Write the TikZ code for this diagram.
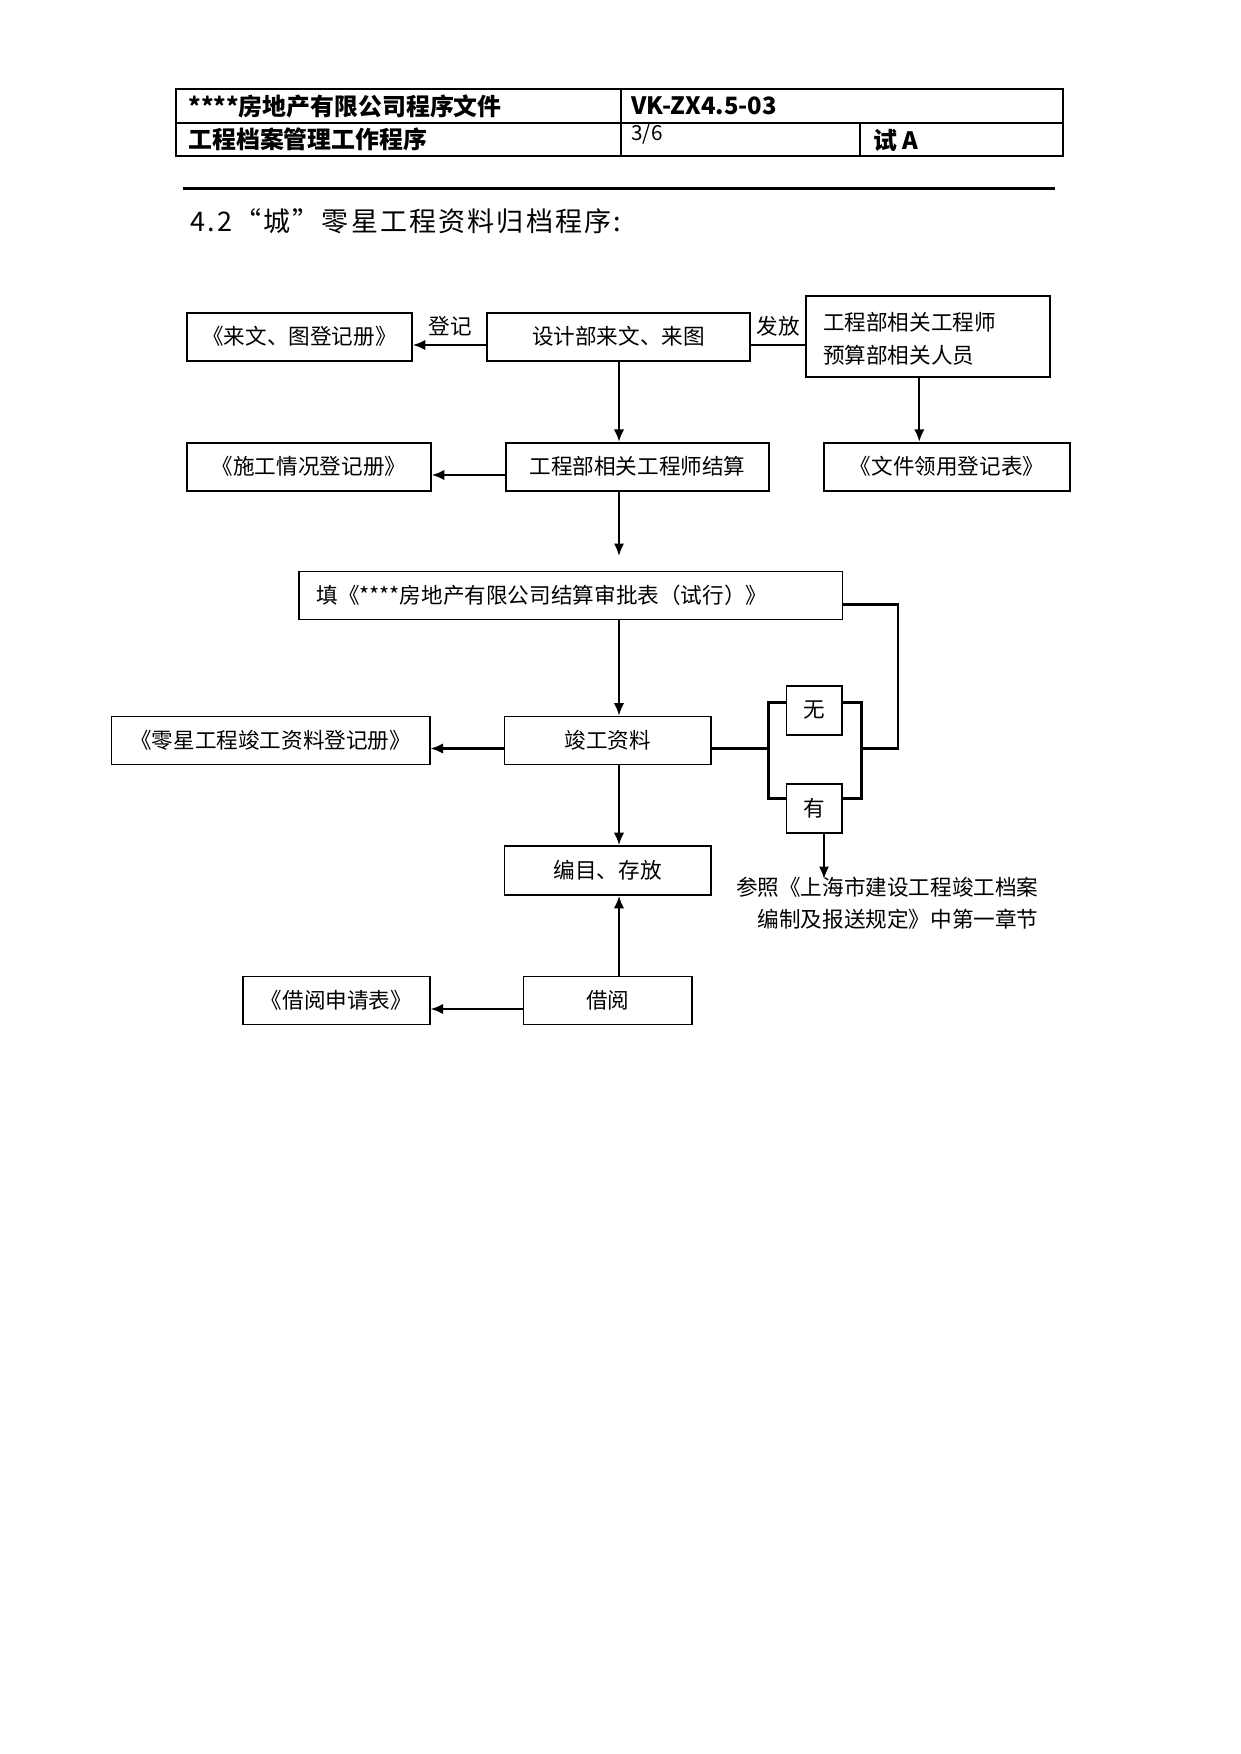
\documentclass[tikz,border=0pt]{standalone}
\usepackage{fontspec}
\setmainfont{Noto Sans CJK SC}
\usetikzlibrary{arrows.meta}
\newdimen\pxl \pxl=0.1692mm
\newcommand\fs{\fontsize{10.4}{15.5}\selectfont}
\newcommand\hfs{\fontsize{11.5}{14}\selectfont\bfseries}
\tikzset{
 box/.style={draw, line width=0.8pt, inner sep=0pt, align=center, font=\fs},
 conn/.style={line width=1.1pt},
 arr/.style={conn, -{Latex[length=6pt,width=5pt]}},
 lbl/.style={inner sep=0pt, font=\fs},
 hdr/.style={inner sep=0pt, anchor=west, font=\hfs},
}
\newcommand\mybox[6]{\node[box, minimum width={(#4-#2)*\pxl}, minimum height={(#5-#3)*\pxl}] (#1) at ({(#2+#4)/2},{(#3+#5)/2}) {#6};}
\begin{document}
\begin{tikzpicture}[x=\pxl, y=-\pxl]
\useasboundingbox (0,0) rectangle (1241,1754);
% header table
\draw[line width=0.8pt] (176,89.3) rectangle (1063,156);
\draw[line width=0.8pt] (176,122.7) -- (1063,122.7) (621,89.3) -- (621,156) (860,122.7) -- (860,156);
\draw[line width=1.6pt] (183,188.3) -- (1055,188.3);
\node[hdr] (h1) at (188,106) {****房地产有限公司程序文件};
\node[hdr] (h2) at (188,139.5) {工程档案管理工作程序};
\node[hdr] (h3) at (631,106) {VK-ZX4.5-03};
\node[hdr, font=\fontsize{10}{12}\selectfont] (h4) at (631,134) {3/6};
\node[hdr] (h5) at (873,140) {试 A};
\node[anchor=west, inner sep=0pt, font=\fontsize{13}{15}\selectfont\addfontfeatures{LetterSpace=8}] (title) at (190,221) {4.2“城”零星工程资料归档程序:};
% boxes
\mybox{A}{187}{312.7}{412}{360.7}{《来文、图登记册》}
\mybox{B}{487}{312.7}{750}{360.7}{设计部来文、来图}
\mybox{C}{805.7}{296}{1050}{377.3}{}
\node[lbl, anchor=west, align=left] (Ct) at (822.7,338.8) {工程部相关工程师\\预算部相关人员};
\mybox{D}{187}{442.7}{431}{490.7}{《施工情况登记册》}
\mybox{E}{505.7}{442.7}{769.3}{490.7}{工程部相关工程师结算}
\mybox{F}{824.3}{442.7}{1070}{490.7}{《文件领用登记表》}
\mybox{G}{299.3}{571.4}{842.5}{619.4}{}
\node[lbl, anchor=west] (Gt) at (316,595.4) {填《****房地产有限公司结算审批表（试行）》};
\mybox{H}{504.4}{716.5}{710.8}{764.5}{竣工资料}
\mybox{I}{111.6}{716.5}{429.7}{764.5}{《零星工程竣工资料登记册》}
\mybox{W}{786.5}{686}{842.3}{735}{无}
\mybox{Y}{786.5}{784}{842.3}{833}{有}
\mybox{J}{504.4}{846}{710.8}{895}{编目、存放}
\mybox{K}{523.4}{976.5}{692}{1024.5}{借阅}
\mybox{L}{243.3}{976.5}{429.7}{1024.5}{《借阅申请表》}
\node[lbl, anchor=east, align=right] (ref) at (1039,903) {参照《上海市建设工程竣工档案\\编制及报送规定》中第一章节};
% helper coordinates
\coordinate (xm) at (619,0);
\coordinate (xc) at (919.3,0);
\coordinate (ya) at (0,345);
\coordinate (yb) at (0,475);
\coordinate (yh) at (0,748.5);
\coordinate (yk) at (0,1009);
\coordinate (gy) at (0,604.5);
\coordinate (Eend) at (619,556);
\coordinate (bl) at (768.5,702.5);
\coordinate (bl2) at (768.5,798.5);
\coordinate (br) at (861.5,702.5);
\coordinate (br2) at (861.5,798.5);
\coordinate (loop) at (898,748.5);
\coordinate (yend) at (824,879);
% connectors
\draw[arr] (B.west |- ya) -- (A.east |- ya);
\node[lbl] (l1) at (450,326) {登记};
\draw[conn] (B.east |- ya) -- (C.west |- ya);
\node[lbl] (l2) at (778,326) {发放};
\draw[arr] (B.south -| xm) -- (E.north -| xm);
\draw[arr] (C.south -| xc) -- (F.north -| xc);
\draw[arr] (E.west |- yb) -- (D.east |- yb);
\draw[arr] (E.south -| xm) -- (Eend);
\draw[arr] (G.south -| xm) -- (H.north -| xm);
\draw[arr] (H.west |- yh) -- (I.east |- yh);
\draw[arr] (H.south -| xm) -- (J.north -| xm);
\draw[arr] (K.north -| xm) -- (J.south -| xm);
\draw[arr] (K.west |- yk) -- (L.east |- yk);
\draw[conn] (H.east |- yh) -- (bl |- yh);
\draw[conn] (W.west |- bl) -- (bl) -- (bl2) -- (Y.west |- bl2);
\draw[conn] (W.east |- br) -- (br) -- (br2) -- (Y.east |- br2);
\draw[conn] (br |- yh) -- (loop) -- (loop |- gy) -- (G.east |- gy);
\draw[arr] (Y.south -| yend) -- (yend);
\end{tikzpicture}
\end{document}
